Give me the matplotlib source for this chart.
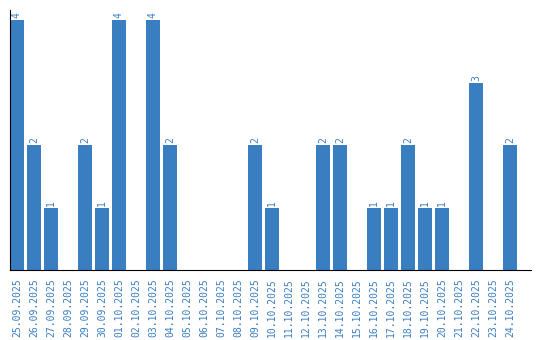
import matplotlib
matplotlib.use('Agg')
import matplotlib.pyplot as plt

# daily counts
dates = ['25.09.2025', '26.09.2025', '27.09.2025', '28.09.2025', '29.09.2025',
         '30.09.2025', '01.10.2025', '02.10.2025', '03.10.2025', '04.10.2025',
         '05.10.2025', '06.10.2025', '07.10.2025', '08.10.2025', '09.10.2025',
         '10.10.2025', '11.10.2025', '12.10.2025', '13.10.2025', '14.10.2025',
         '15.10.2025', '16.10.2025', '17.10.2025', '18.10.2025', '19.10.2025',
         '20.10.2025', '21.10.2025', '22.10.2025', '23.10.2025', '24.10.2025']
counts = [4, 2, 1, 0, 2, 1, 4, 0, 4, 2,
          0, 0, 0, 0, 2, 1, 0, 0, 2, 2,
          0, 1, 1, 2, 1, 1, 0, 3, 0, 2]

blue = '#3a7ec2'

fig = plt.figure(figsize=(5.4, 3.4), dpi=100)
ax = fig.add_axes([10 / 540, 70 / 340, 521 / 540, 260 / 340])

x = range(len(dates))
bars = ax.bar(x, counts, width=0.82, color=blue)

# value labels above each non-zero bar
for i, c in enumerate(counts):
    if c > 0:
        ax.text(i, c + 0.03, str(c), rotation=90, ha='center', va='bottom',
                color=blue, fontsize=7, family='DejaVu Sans Mono')

ax.set_xlim(-0.41, 30.24)
ax.set_ylim(0, 4.16)
ax.set_xticks(list(x))
ax.set_xticklabels(dates, rotation=90, color=blue, fontsize=7,
                   family='DejaVu Sans Mono')
ax.tick_params(axis='x', length=0, pad=6)
ax.set_yticks([])
ax.spines['top'].set_visible(False)
ax.spines['right'].set_visible(False)

fig.savefig('out.png', dpi=100)
